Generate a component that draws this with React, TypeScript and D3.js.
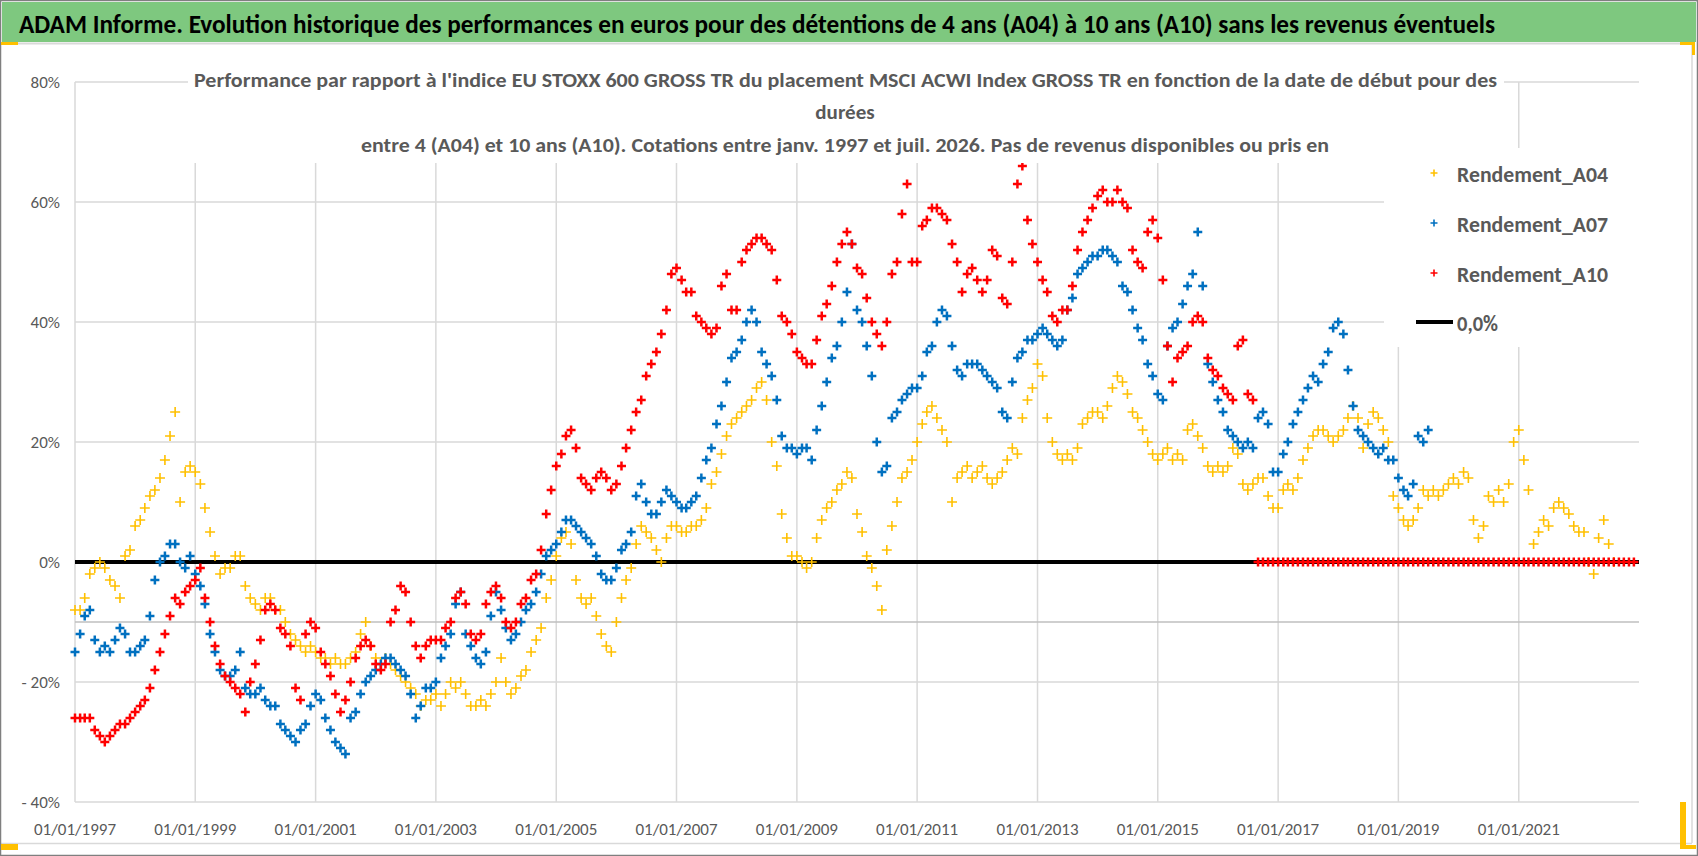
import React from 'react';
import * as d3 from 'd3';

// Monthly readings (%), first value = January 1997
const rendementA04 = [
  -8, -8, -6, -2, -1, 0, -1, -3, -4, -6, 1, 2, // 1997
  6, 7, 9, 11, 12, 14, 17, 21, 25, 10, 15, 16, // 1998
  15, 13, 9, 5, 1, -2, -1, -1, 1, 1, -4, -6, // 1999
  -7, -8, -6, -6, -8, -8, -10, -12, -13, -14, -15, -14, // 2000
  -15, -16, -16, -17, -16, -17, -17, -16, -15, -12, -10, -14, // 2001
  -16, -17, -16, -17, -18, -19, -20, -21, -22, -24, -23, -23, // 2002
  -22, -24, -22, -20, -21, -20, -22, -24, -24, -23, -24, -22, // 2003
  -20, -16, -20, -22, -21, -19, -18, -15, -13, -11, -6, -3, // 2004
  1, 4, 5, 3, -3, -6, -7, -6, -9, -12, -14, -15, // 2005
  -10, -6, -3, -1, 3, 6, 5, 4, 2, 0, 4, 6, // 2006
  6, 5, 5, 6, 6, 7, 9, 13, 15, 18, 21, 23, // 2007
  24, 25, 26, 27, 29, 30, 27, 20, 16, 8, 4, 1, // 2008
  1, 0, -1, 0, 4, 7, 9, 10, 12, 13, 15, 14, // 2009
  8, 5, 1, -1, -4, -8, 2, 6, 10, 14, 15, 17, // 2010
  20, 23, 25, 26, 24, 22, 20, 10, 14, 15, 16, 14, // 2011
  15, 16, 14, 13, 14, 15, 17, 19, 18, 24, 27, 29, // 2012
  33, 31, 24, 20, 18, 17, 18, 17, 19, 23, 24, 25, // 2013
  25, 24, 26, 29, 31, 30, 28, 25, 24, 22, 20, 18, // 2014
  17, 18, 19, 17, 18, 17, 22, 23, 21, 19, 16, 15, // 2015
  16, 15, 16, 19, 18, 13, 12, 13, 14, 14, 11, 9, // 2016
  9, 12, 13, 12, 14, 17, 19, 21, 22, 22, 21, 20, // 2017
  21, 22, 24, 26, 24, 19, 23, 25, 24, 22, 20, 11, // 2018
  9, 7, 6, 7, 9, 12, 11, 12, 11, 12, 13, 14, // 2019
  13, 15, 14, 7, 4, 6, 11, 10, 12, 10, 13, 20, // 2020
  22, 17, 12, 3, 5, 7, 6, 9, 10, 9, 8, 6, // 2021
  5, 5, 0, -2, 4, 7, 3, 0, // 2022
];

const rendementA07 = [
  -15, -12, -9, -8, -13, -15, -14, -15, -13, -11, -12, -15, // 1997
  -15, -14, -13, -9, -3, 0, 1, 3, 3, 0, -1, 1, // 1998
  -2, -4, -7, -12, -15, -18, -19, -19, -18, -15, -21, -22, // 1999
  -22, -21, -23, -24, -24, -27, -28, -29, -30, -28, -27, -24, // 2000
  -22, -23, -26, -28, -30, -31, -32, -26, -25, -22, -20, -19, // 2001
  -18, -17, -16, -16, -17, -18, -19, -22, -26, -24, -21, -21, // 2002
  -20, -16, -14, -12, -7, -5, -12, -14, -16, -17, -15, -9, // 2003
  -5, -8, -11, -13, -12, -10, -8, -7, -5, -2, 1, 2, // 2004
  3, 5, 7, 7, 6, 5, 4, 3, 1, -2, -3, -3, // 2005
  -1, 2, 3, 5, 11, 13, 10, 8, 8, 10, 12, 11, // 2006
  10, 9, 9, 10, 11, 14, 17, 19, 23, 26, 30, 34, // 2007
  35, 37, 40, 42, 40, 35, 33, 31, 27, 21, 19, 19, // 2008
  18, 19, 19, 17, 22, 26, 30, 34, 36, 40, 45, 53, // 2009
  42, 40, 36, 31, 20, 15, 16, 24, 25, 27, 28, 29, // 2010
  29, 31, 35, 36, 40, 42, 41, 36, 32, 31, 33, 33, // 2011
  33, 32, 31, 30, 29, 25, 24, 30, 34, 35, 37, 37, // 2012
  38, 39, 38, 37, 36, 37, 42, 44, 48, 49, 50, 51, // 2013
  51, 52, 52, 51, 50, 46, 45, 42, 39, 37, 33, 31, // 2014
  28, 27, 36, 39, 40, 43, 46, 48, 55, 46, 33, 30, // 2015
  27, 25, 22, 21, 20, 19, 20, 19, 24, 25, 23, 15, // 2016
  15, 18, 20, 23, 25, 27, 29, 31, 30, 33, 35, 39, // 2017
  40, 38, 32, 26, 22, 21, 20, 19, 18, 19, 17, 17, // 2018
  14, 12, 11, 13, 21, 20, 22, // 2019
];

const rendementA10 = [
  -26, -26, -26, -26, -28, -29, -30, -29, -28, -27, -27, -26, // 1997
  -25, -24, -23, -21, -18, -15, -12, -9, -6, -7, -5, -4, // 1998
  -3, -1, -6, -10, -14, -17, -19, -20, -21, -22, -25, -20, // 1999
  -17, -13, -8, -7, -8, -11, -12, -14, -21, -23, -12, -10, // 2000
  -11, -15, -17, -19, -22, -25, -23, -20, -16, -14, -13, -14, // 2001
  -17, -18, -17, -10, -8, -4, -5, -10, -14, -16, -14, -13, // 2002
  -13, -13, -11, -10, -6, -5, -7, -12, -13, -12, -7, -5, // 2003
  -4, -6, -10, -11, -10, -7, -6, -3, -2, 2, 8, 12, // 2004
  16, 18, 21, 22, 19, 14, 13, 12, 14, 15, 14, 12, // 2005
  13, 16, 19, 22, 25, 27, 31, 33, 35, 38, 42, 48, // 2006
  49, 47, 45, 45, 41, 40, 39, 38, 39, 46, 48, 42, // 2007
  42, 50, 52, 53, 54, 54, 53, 52, 47, 41, 40, 38, // 2008
  35, 34, 33, 33, 37, 41, 43, 46, 50, 53, 55, 53, // 2009
  49, 48, 44, 40, 38, 36, 40, 48, 50, 58, 63, 50, // 2010
  50, 56, 57, 59, 59, 58, 57, 53, 50, 45, 48, 49, // 2011
  47, 45, 47, 52, 51, 44, 43, 50, 63, 66, 57, 53, // 2012
  50, 47, 45, 41, 40, 42, 42, 46, 52, 55, 57, 59, // 2013
  61, 62, 60, 60, 62, 60, 59, 52, 50, 49, 55, 57, // 2014
  54, 47, 36, 30, 34, 35, 36, 40, 41, 40, 34, 32, // 2015
  31, 29, 28, 27, 36, 37, 28, 27, 0, 0, 0, 0, // 2016
  0, 0, 0, 0, 0, 0, 0, 0, 0, 0, 0, 0, // 2017
  0, 0, 0, 0, 0, 0, 0, 0, 0, 0, 0, 0, // 2018
  0, 0, 0, 0, 0, 0, 0, 0, 0, 0, 0, 0, // 2019
  0, 0, 0, 0, 0, 0, 0, 0, 0, 0, 0, 0, // 2020
  0, 0, 0, 0, 0, 0, 0, 0, 0, 0, 0, 0, // 2021
  0, 0, 0, 0, 0, 0, 0, 0, 0, 0, 0, 0, // 2022
];

const yTicks = [-40, -20, 0, 20, 40, 60, 80];
const xTickYears = [1997, 1999, 2001, 2003, 2005, 2007, 2009, 2011, 2013, 2015, 2017, 2019, 2021];

const titleText =
  'ADAM Informe. Evolution historique des performances en euros pour des détentions de 4 ans (A04) à 10 ans (A10) sans les revenus éventuels';
const subtitleLines = [
  "Performance par rapport à l'indice EU STOXX 600 GROSS TR  du placement MSCI ACWI Index GROSS TR en fonction de la date de début pour des",
  'durées',
  'entre 4 (A04) et 10 ans (A10).  Cotations entre janv. 1997 et juil. 2026. Pas de revenus disponibles ou pris en',
];

const series = [
  { name: 'Rendement_A04', values: rendementA04, color: '#FFC000', size: 5, width: 1.6 },
  { name: 'Rendement_A07', values: rendementA07, color: '#0070C0', size: 4.5, width: 2.5 },
  { name: 'Rendement_A10', values: rendementA10, color: '#FF0000', size: 4.5, width: 2.5 },
];

const FONT = "Carlito, 'Liberation Sans Narrow', 'DejaVu Sans Condensed', 'Open Sans', sans-serif";
const GREY_TEXT = '#595959';

const W = 1698;
const H = 856;

const x = d3
  .scaleTime()
  .domain([new Date(1997, 0, 1), new Date(2023, 0, 1)])
  .range([75, 1639]);
const y = d3.scaleLinear().domain([-40, 80]).range([802, 82]);

const dateFmt = d3.timeFormat('%d/%m/%Y');

// Excel style "+" markers, one path per series
const crossPath = (vals: number[], s: number) =>
  vals
    .map((v, i) => {
      const px = x(new Date(1997, i, 1));
      const py = y(v);
      return `M${px - s},${py}h${2 * s}M${px},${py - s}v${2 * s}`;
    })
    .join('');

const pctLabel = (v: number) => (v < 0 ? `- ${Math.abs(v)}%` : `${v}%`);

export default function App() {
  const [x0, x1] = x.range();
  return (
    <svg
      width={W}
      height={H}
      style={{ position: 'absolute', left: 0, top: 0, background: '#fff' }}
      fontFamily={FONT}
    >
      <rect x={0} y={0} width={W} height={H} fill="#fff" />

      {/* title bar */}
      <rect x={2} y={2} width={W - 4} height={40} fill="#7EC87F" />
      <line x1={0} x2={1692} y1={43.5} y2={43.5} stroke="#d9d9d9" strokeWidth={2} />
      <text x={19} y={33} fontSize={27} fontWeight="bold" fill="#000" textLength={1476} lengthAdjust="spacingAndGlyphs">
        {titleText}
      </text>

      {/* gridlines */}
      <g stroke="#d9d9d9" strokeWidth={1.5}>
        {yTicks.map((t) => (
          <line key={t} x1={x0} x2={x1} y1={y(t)} y2={y(t)} />
        ))}
        {xTickYears.map((yr) => (
          <line key={yr} x1={x(new Date(yr, 0, 1))} x2={x(new Date(yr, 0, 1))} y1={y(80)} y2={y(-40)} />
        ))}
      </g>
      <line x1={x0} x2={x1} y1={y(-10)} y2={y(-10)} stroke="#bfbfbf" strokeWidth={1.5} />

      {/* y labels */}
      {yTicks.map((t) => (
        <text key={t} x={60} y={y(t)} dy="0.35em" textAnchor="end" fontSize={17} fill={GREY_TEXT}>
          {pctLabel(t)}
        </text>
      ))}
      {/* x labels */}
      {xTickYears.map((yr) => (
        <text key={yr} x={x(new Date(yr, 0, 1))} y={835} textAnchor="middle" fontSize={17} fill={GREY_TEXT}>
          {dateFmt(new Date(yr, 0, 1))}
        </text>
      ))}

      {/* 0,0% line */}
      <line x1={x0} x2={x1} y1={y(0)} y2={y(0)} stroke="#000" strokeWidth={4} />

      {/* scatter series */}
      {series.map((s) => (
        <path key={s.name} d={crossPath(s.values, s.size)} stroke={s.color} strokeWidth={s.width} fill="none" />
      ))}

      {/* chart title box */}
      <rect x={188} y={58} width={1316} height={105} fill="#fff" />
      <g fontSize={21} fontWeight="bold" fill={GREY_TEXT}>
        <text x={194} y={87} textLength={1303} lengthAdjust="spacingAndGlyphs">
          {subtitleLines[0]}
        </text>
        <text x={845} y={119} textAnchor="middle">
          {subtitleLines[1]}
        </text>
        <text x={361} y={152} textLength={968} lengthAdjust="spacingAndGlyphs">
          {subtitleLines[2]}
        </text>
      </g>

      {/* legend */}
      <rect x={1384} y={148} width={268} height={199} fill="#fff" />
      <g fontSize={23} fontWeight="bold" fill={GREY_TEXT}>
        {series.map((s, i) => {
          const cy = 173 + i * 50;
          return (
            <g key={s.name}>
              <path d={`M${1430.5},${cy}h7M${1434},${cy - 3.5}v7`} stroke={s.color} strokeWidth={1.6} />
              <text x={1457} y={cy + 8.5} textLength={151} lengthAdjust="spacingAndGlyphs">
                {s.name}
              </text>
            </g>
          );
        })}
        <line x1={1416} x2={1453} y1={322} y2={322} stroke="#000" strokeWidth={4} />
        <text x={1457} y={330.5} textLength={41} lengthAdjust="spacingAndGlyphs">
          0,0%
        </text>
      </g>

      {/* frame */}
      <line x1={1692} x2={1692} y1={44} y2={843} stroke="#d9d9d9" strokeWidth={1.5} />
      <line x1={0} x2={1692} y1={843.5} y2={843.5} stroke="#d9d9d9" strokeWidth={1.5} />
      <rect x={0.5} y={0.5} width={W - 1} height={H - 1} fill="none" stroke="#7f7f7f" strokeWidth={1.5} />
      <g fill="#FFC000">
        <rect x={1} y={42} width={17} height={3} />
        <rect x={1} y={844} width={17} height={6} />
        <rect x={1680} y={42} width={15} height={3} />
        <rect x={1692} y={42} width={3} height={13} />
        <rect x={1680} y={802} width={6} height={47} />
        <rect x={1680} y={845} width={16} height={4} />
      </g>
    </svg>
  );
}
